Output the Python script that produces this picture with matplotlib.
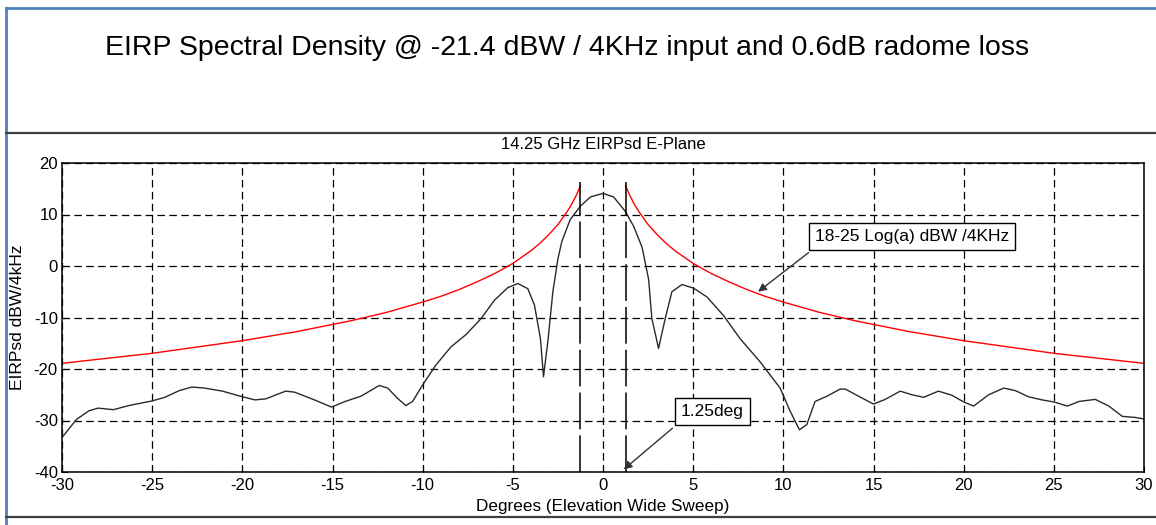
import matplotlib
matplotlib.use("Agg")
import numpy as np
import matplotlib.pyplot as plt
from matplotlib.lines import Line2D

plt.rcParams['font.family'] = ['Liberation Sans', 'DejaVu Sans']
plt.rcParams['axes.unicode_minus'] = False

sweep_deg = [-30.0, -29.2, -28.5, -28.0, -27.15, -26.3, -25.0, -24.3, -23.5, -22.8,
             -22.1, -21.1, -20.1, -19.3, -18.7, -17.6, -17.1, -16.0, -15.05, -14.3,
             -13.43, -12.41, -11.94, -11.39, -10.93, -10.56, -10.0, -9.26, -8.43, -7.59,
             -6.76, -6.02, -5.28, -4.72, -4.17, -3.8, -3.47, -3.3, -3.06, -2.78,
             -2.5, -2.28, -1.82, -1.26, -0.7, 0.0, 0.59, 1.24, 1.7, 2.17,
             2.53, 2.71, 3.08, 3.45, 3.82, 4.38, 5.02, 5.76, 6.68, 7.6,
             8.71, 9.82, 10.38, 10.89, 11.3, 11.76, 12.41, 13.15, 13.44, 14.18,
             15.0, 15.65, 16.48, 17.13, 17.78, 18.6, 19.35, 20.0, 20.55, 21.39,
             22.22, 22.87, 23.6, 24.35, 25.0, 25.75, 26.4, 27.3, 28.05, 28.8,
             29.5, 30.0]
sweep_eirp = [-33.3, -29.8, -28.1, -27.6, -27.9, -27.1, -26.2, -25.5, -24.2, -23.5,
              -23.7, -24.3, -25.3, -26.0, -25.8, -24.3, -24.5, -26.0, -27.4, -26.3,
              -25.3, -23.2, -23.7, -25.7, -27.1, -26.3, -23.1, -19.2, -15.7, -13.3,
              -10.2, -6.65, -4.2, -3.4, -4.4, -7.6, -14.1, -21.5, -14.7, -5.0,
              1.4, 4.8, 9.0, 11.6, 13.4, 14.1, 13.4, 10.6, 7.7, 3.6,
              -2.6, -10.2, -16.0, -10.2, -5.0, -3.6, -4.3, -6.0, -9.6, -14.1,
              -18.6, -23.7, -28.2, -31.8, -30.8, -26.3, -25.3, -23.9, -23.9, -25.3,
              -26.8, -25.9, -24.3, -25.0, -25.5, -24.3, -25.1, -26.4, -27.2, -25.0,
              -23.7, -24.2, -25.4, -26.0, -26.4, -27.2, -26.3, -25.9, -27.2, -29.2,
              -29.4, -29.7]

# 18-25 Log(a) mask, one side (mirrored)
mask_deg = [1.25, 1.5, 1.75, 2.0, 2.5, 3.0, 3.5, 4.0, 5.0, 6.0, 7.0, 8.0, 9.0,
            10.0, 12.0, 14.0, 17.0, 20.0, 25.0, 30.0]
mask_eirp = [15.6, 13.6, 11.9, 10.5, 8.05, 6.1, 4.4, 2.95, 0.5, -1.45, -3.1, -4.6,
             -5.9, -7.0, -9.0, -10.65, -12.75, -14.5, -16.95, -18.9]

beam_edge = [-1.25, 1.25]

fig = plt.figure(figsize=(11.56, 5.25), dpi=100)
ax = fig.add_axes([62 / 1156, 1 - 472 / 525, 1082 / 1156, 309 / 525])

mask_deg = np.array(mask_deg)
ax.plot(mask_deg, mask_eirp, color='#ff0000', lw=1.0)
ax.plot(-mask_deg, mask_eirp, color='#ff0000', lw=1.0)
ax.plot(sweep_deg, sweep_eirp, color='#2a2a2a', lw=1.0)
for b in beam_edge:
    ax.plot([b, b], [-40, 16.3], color='black', lw=1.1, linestyle=(0, (24, 4)))

ax.set_xlim(-30, 30)
ax.set_ylim(-40, 20)
ax.set_xticks(range(-30, 31, 5))
ax.set_yticks(range(-40, 21, 10))
ax.grid(True, color='black', linestyle=(0, (6, 3.5)), lw=0.9)
ax.tick_params(direction='in', labelsize=12, length=4)
ax.tick_params(axis='x', pad=4)
ax.tick_params(axis='y', pad=3)
for s in ax.spines.values():
    s.set_linewidth(1.1)
ax.set_xlabel('Degrees (Elevation Wide Sweep)', fontsize=12.3, labelpad=5)
ax.set_ylabel('EIRPsd dBW/4kHz', fontsize=12.5, labelpad=6)
ax.set_title('14.25 GHz EIRPsd E-Plane', fontsize=12, pad=10)

# annotation boxes with arrows leaving from their lower-left corners
box = dict(boxstyle='square,pad=0.35', fc='white', ec='black', lw=1)
arrow = dict(arrowstyle='-|>', color='#333333', lw=1, shrinkA=0, shrinkB=0,
             mutation_scale=12)
ax.text(17.15, 5.7, '18-25 Log(a) dBW /4KHz', ha='center', va='center',
        fontsize=12.5, bbox=box, zorder=5)
ax.annotate('', xy=(8.6, -5.0), xytext=(11.4, 2.6), arrowprops=arrow)
ax.text(6.05, -28.3, '1.25deg', ha='center', va='center',
        fontsize=12.5, bbox=box, zorder=5)
ax.annotate('', xy=(1.15, -39.5), xytext=(3.85, -31.5), arrowprops=arrow)

fig.text(567 / 1156, 1 - 48 / 525,
         'EIRP Spectral Density @ -21.4 dBW / 4KHz input and 0.6dB radome loss',
         ha='center', va='center', fontsize=20.5)

# page frame lines
fig.add_artist(Line2D([6 / 1156, 6 / 1156], [0, 1 - 8 / 525], color='#4f81bd', lw=2))
fig.add_artist(Line2D([6 / 1156, 1], [1 - 8 / 525, 1 - 8 / 525], color='#4f81bd', lw=2))
fig.add_artist(Line2D([6 / 1156, 1], [1 - 133 / 525, 1 - 133 / 525], color='#404040', lw=1.6))
fig.add_artist(Line2D([6 / 1156, 1], [1 - 517 / 525, 1 - 517 / 525], color='#404040', lw=1.6))

fig.savefig('out.png', dpi=100)
